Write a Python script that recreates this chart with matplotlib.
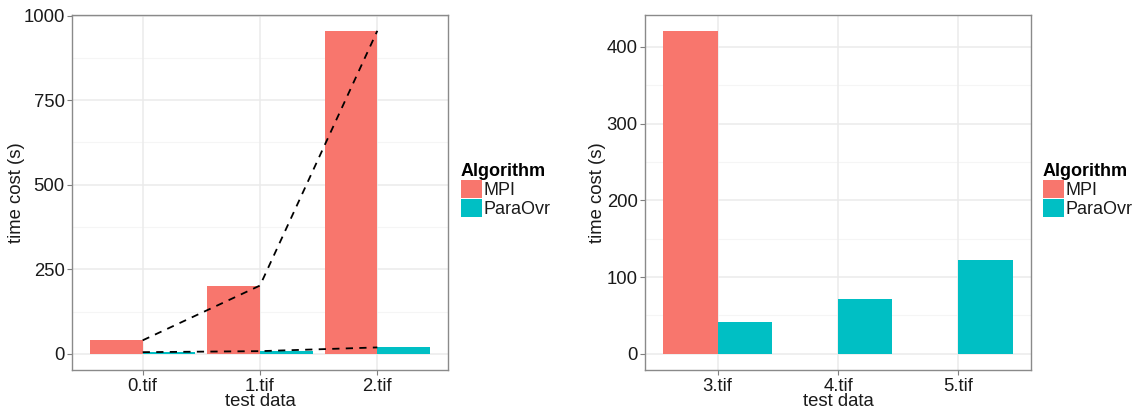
import matplotlib
matplotlib.use("Agg")
import matplotlib.pyplot as plt
import numpy as np
from matplotlib.patches import Patch

plt.rcParams['font.family'] = ['Liberation Sans', 'DejaVu Sans']

# ---- data ----
left_categories = ["0.tif", "1.tif", "2.tif"]
left_mpi = [40, 202, 955]
left_paraovr = [5, 8, 19]

right_categories = ["3.tif", "4.tif", "5.tif"]
right_mpi = [421, np.nan, np.nan]
right_paraovr = [41, 71, 122]

series_names = ["MPI", "ParaOvr"]
colors = ["#F8766D", "#00BFC4"]

x_label = "test data"
y_label = "time cost (s)"
legend_title = "Algorithm"

left_yticks = [0, 250, 500, 750, 1000]
left_yminor = [125, 375, 625, 875]
right_yticks = [0, 100, 200, 300, 400]
right_yminor = [50, 150, 250, 350]

FS = 13.3
LFS = 13

W, H = 1137, 412
fig = plt.figure(figsize=(W / 100, H / 100), dpi=100)

def px_axes(x0, x1, ytop, ybot):
    return fig.add_axes([x0 / W, 1 - ybot / H, (x1 - x0) / W, (ybot - ytop) / H])

ax1 = px_axes(72.3, 447.7, 14.7, 370)
ax2 = px_axes(645.3, 1030.7, 14.7, 370)

def draw(ax, cats, mpi, para, yticks, yminor, with_lines, legend_x, ylab_x):
    x = np.arange(len(cats))
    w = 0.45
    ax.set_facecolor("white")
    for t in yminor:
        ax.axhline(t, color="#F5F5F5", lw=0.8, zorder=0)
    for t in yticks:
        ax.axhline(t, color="#EBEBEB", lw=1.1, zorder=0)
    for xi in x:
        ax.axvline(xi, color="#EBEBEB", lw=1.1, zorder=0)
    mpi_arr = np.array(mpi, dtype=float)
    para_arr = np.array(para, dtype=float)
    ax.bar(x - w / 2, np.nan_to_num(mpi_arr), width=w, color=colors[0], zorder=2)
    ax.bar(x + w / 2, para_arr, width=w, color=colors[1], zorder=2)
    if with_lines:
        ax.plot(x, mpi_arr, color="black", ls=(0, (4, 3.5)), lw=1.3, zorder=3)
        ax.plot(x, para_arr, color="black", ls=(0, (4, 3.5)), lw=1.3, zorder=3)
    ymax = np.nanmax(np.concatenate([mpi_arr, para_arr]))
    ax.set_ylim(-0.05 * ymax, 1.05 * ymax)
    ax.set_xlim(-0.6, len(cats) - 1 + 0.6)
    ax.set_xticks(x)
    ax.set_xticklabels(cats)
    ax.set_yticks(yticks)
    ax.set_yticklabels([str(t) for t in yticks])
    ax.tick_params(axis="both", which="major", length=3.5, width=0.8, color="#7F7F7F",
                   labelsize=FS, labelcolor="#1A1A1A", pad=2)
    for s in ax.spines.values():
        s.set_color("#8A8A8A")
        s.set_linewidth(1.0)
    ax.set_xlabel(x_label, fontsize=FS, color="#1A1A1A", labelpad=-1)
    ax.set_ylabel(y_label, fontsize=FS, color="#1A1A1A")
    bb = ax.get_position()
    ax.yaxis.set_label_coords((ylab_x / W - bb.x0) / bb.width, 0.5)
    handles = [Patch(facecolor=colors[0], edgecolor="none", label=series_names[0]),
               Patch(facecolor=colors[1], edgecolor="none", label=series_names[1])]
    leg = fig.legend(handles=handles, title=legend_title, loc="upper left",
                     bbox_to_anchor=(legend_x / W, 1 - 163 / H),
                     frameon=False, fontsize=LFS, title_fontsize=LFS,
                     handlelength=1.15, handleheight=1.15, handletextpad=0.1,
                     labelspacing=0.0, borderpad=0, borderaxespad=0,
                     alignment="left")
    leg.get_title().set_fontweight("bold")
    leg.get_title().set_color("#000000")
    for t in leg.get_texts():
        t.set_color("#1A1A1A")
    return leg

draw(ax1, left_categories, left_mpi, left_paraovr, left_yticks, left_yminor, True, 461, 25)
draw(ax2, right_categories, right_mpi, right_paraovr, right_yticks, right_yminor, False, 1043, 606)

fig.savefig("out.png", dpi=100)
